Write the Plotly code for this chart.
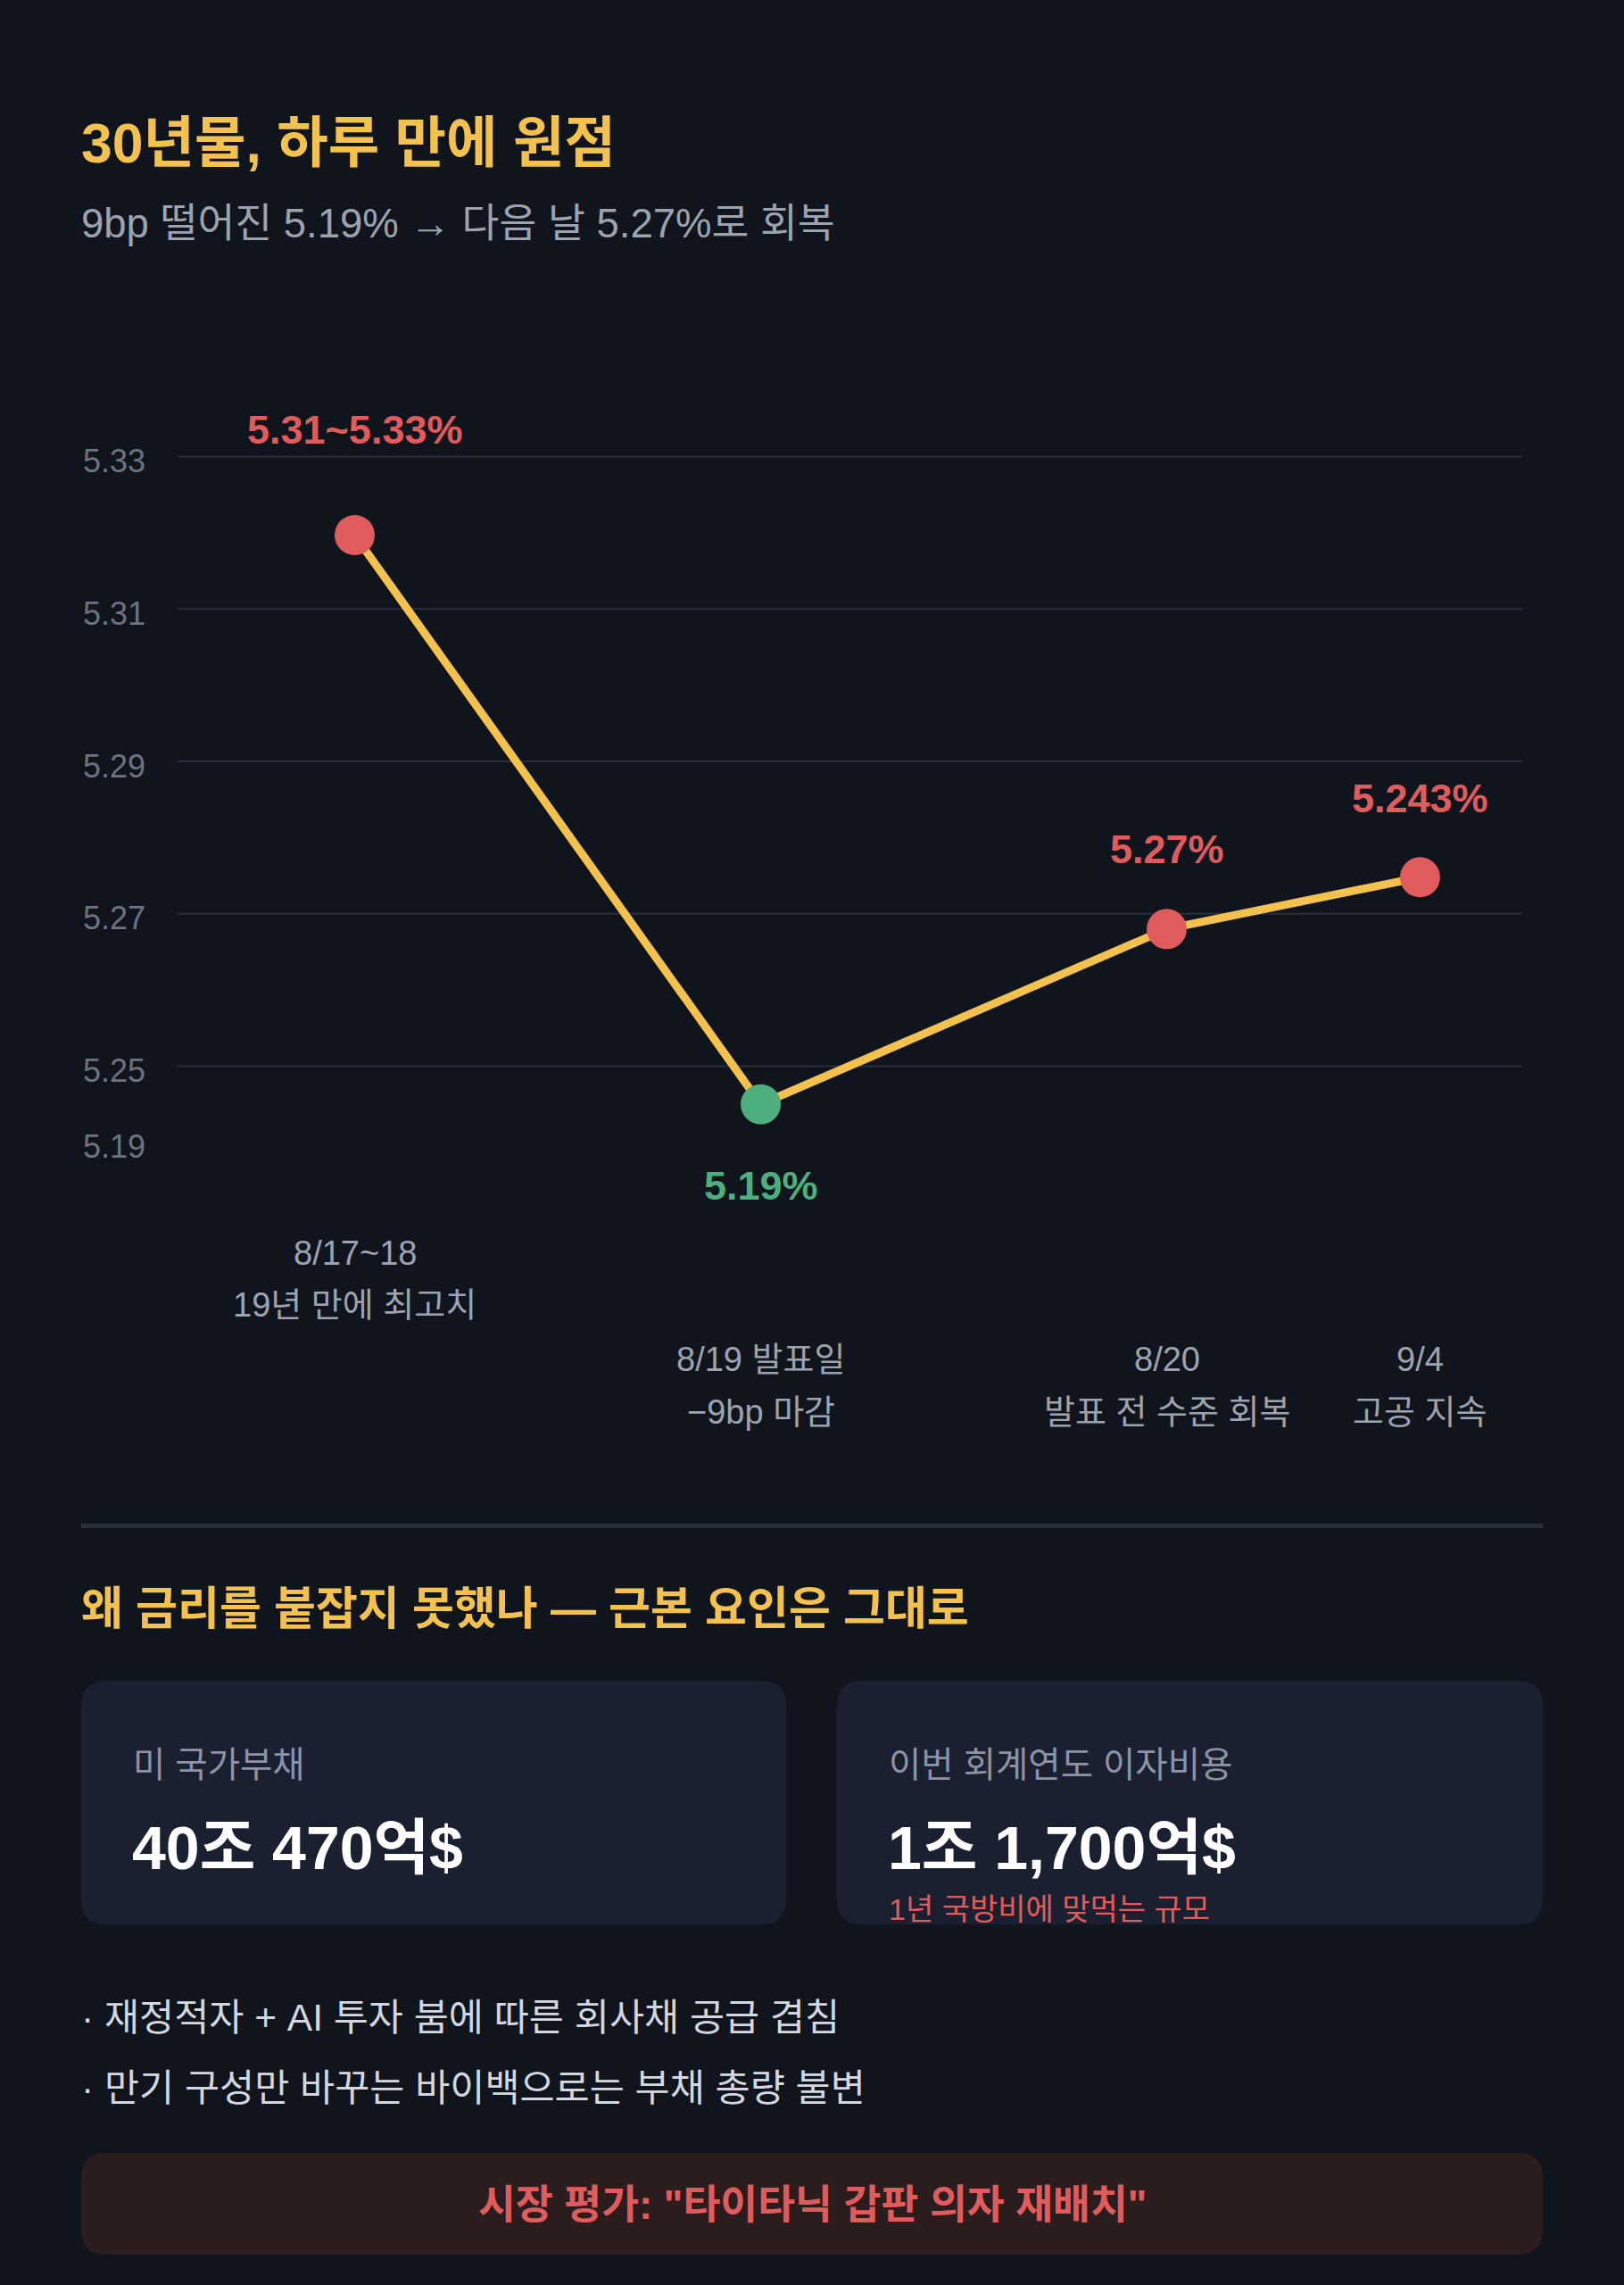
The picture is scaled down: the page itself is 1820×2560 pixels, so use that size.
import plotly.graph_objects as go

W, H = 1820, 2560

# ---------------- data ----------------
categories = ["8/17~18", "8/19 발표일", "8/20", "9/4"]
category_notes = ["19년 만에 최고치", "−9bp 마감", "발표 전 수준 회복", "고공 지속"]
x_index = [0, 1, 2, 2.624]
y_values = [5.3197, 5.2450, 5.2680, 5.2748]
value_labels = ["5.31~5.33%", "5.19%", "5.27%", "5.243%"]
point_kind = ["high", "low", "high", "high"]

grid_ticks = [5.33, 5.31, 5.29, 5.27, 5.25]
extra_tick_vals = [5.2394]
extra_tick_text = ["5.19"]

title_text = "30년물, 하루 만에 원점"
subtitle_text = "9bp 떨어진 5.19% → 다음 날 5.27%로 회복"
section_title = "왜 금리를 붙잡지 못했나 — 근본 요인은 그대로"
card_labels = ["미 국가부채", "이번 회계연도 이자비용"]
card_values = ["40조 470억$", "1조 1,700억$"]
card_notes = ["", "1년 국방비에 맞먹는 규모"]
bullets = ["· 재정적자 + AI 투자 붐에 따른 회사채 공급 겹침",
           "· 만기 구성만 바꾸는 바이백으로는 부채 총량 불변"]
verdict = '시장 평가: "타이타닉 갑판 의자 재배치"'

# ---------------- style ----------------
BG = "#10141c"
CARD = "#1b2030"
VERDICT_BG = "#2b1c1e"
YELLOW = "#f3c14e"
RED = "#e05c5c"
GREEN = "#4caf7d"
GRID = "#282e3d"
TICK = "#6b7280"
GRAY = "#9ca3af"
LIGHT = "#d3d7df"
FONT = "Liberation Sans, 'Noto Sans CJK KR', sans-serif"
kind_color = {"high": RED, "low": GREEN}


def px(x):
    return x / W


def py(y):
    return 1 - y / H


# plot-area geometry (pixels)
plot_left, plot_right = 199, 1706
plot_top, plot_bottom = 450, 1350
y_px_hi, y_px_lo = 511.6, 1194.5        # pixel rows of 5.33 and 5.25
ppu_y = (y_px_lo - y_px_hi) / (5.33 - 5.25)
y_range = [5.25 - (plot_bottom - y_px_lo) / ppu_y, 5.33 + (y_px_hi - plot_top) / ppu_y]
x0_px, ppu_x = 397.5, 455.0
x_range = [-(x0_px - plot_left) / ppu_x, (plot_right - x0_px) / ppu_x]

fig = go.Figure()

fig.add_trace(go.Scatter(
    x=x_index, y=y_values, mode="lines+markers",
    line=dict(color=YELLOW, width=9),
    marker=dict(size=45, color=[kind_color[k] for k in point_kind], line=dict(width=0)),
    cliponaxis=False, hoverinfo="skip", showlegend=False,
))

shapes = []
for v in grid_ticks:
    shapes.append(dict(type="line", xref="x domain", x0=0, x1=1, yref="y", y0=v, y1=v,
                       line=dict(color=GRID, width=2), layer="below"))


def rrect(x0, y0, x1, y1, r, fill):
    pts = lambda a, b: f"{px(a):.6f},{py(b):.6f}"
    path = (f"M {pts(x0 + r, y0)} L {pts(x1 - r, y0)} Q {pts(x1, y0)} {pts(x1, y0 + r)} "
            f"L {pts(x1, y1 - r)} Q {pts(x1, y1)} {pts(x1 - r, y1)} "
            f"L {pts(x0 + r, y1)} Q {pts(x0, y1)} {pts(x0, y1 - r)} "
            f"L {pts(x0, y0 + r)} Q {pts(x0, y0)} {pts(x0 + r, y0)} Z")
    return dict(type="path", xref="paper", yref="paper", path=path,
                fillcolor=fill, line=dict(width=0), layer="below")


# separator
shapes.append(dict(type="rect", xref="paper", yref="paper", x0=px(91), x1=px(1729),
                   y0=py(1712), y1=py(1707), fillcolor="#2a2f3e", line=dict(width=0), layer="below"))
# cards
card_x = [(91, 881), (938, 1729)]
for (a, b) in card_x:
    shapes.append(rrect(a, 1883, b, 2156, 28, CARD))
# verdict box
shapes.append(rrect(91, 2412, 1729, 2526, 28, VERDICT_BG))

ann = []


def text(x, y, s, size, color, bold=False, xanchor="left"):
    ann.append(dict(xref="paper", yref="paper", x=px(x), y=py(y), text=f"<b>{s}</b>" if bold else s,
                    showarrow=False, xanchor=xanchor, yanchor="middle",
                    font=dict(size=size, color=color, family=FONT)))


text(89, 160, title_text, 62.5, YELLOW, bold=True)
text(89, 251, subtitle_text, 45.5, GRAY)

# y tick labels (sit slightly below their gridlines)
tick_vals = grid_ticks + extra_tick_vals
tick_text = [f"{v:.2f}" for v in grid_ticks] + extra_tick_text
tick_shift = [-5] * len(grid_ticks) + [0]
for v, t, sh in zip(tick_vals, tick_text, tick_shift):
    ann.append(dict(xref="paper", yref="y", x=px(165), y=v, text=t, showarrow=False,
                    xanchor="right", yanchor="middle", yshift=sh,
                    font=dict(size=36, color=TICK, family=FONT)))

# value labels on points
label_shift = [118, -91, 89, 88]
for xi, yi, lab, k, sh in zip(x_index, y_values, value_labels, point_kind, label_shift):
    ann.append(dict(xref="x", yref="y", x=xi, y=yi, text=f"<b>{lab}</b>", showarrow=False,
                    xanchor="center", yanchor="middle", yshift=sh,
                    font=dict(size=45, color=kind_color[k], family=FONT)))

# category labels (first one staggered upward)
row_y = [(1404, 1462), (1523, 1582), (1523, 1582), (1523, 1582)]
for xi, c, n, (ya, yb) in zip(x_index, categories, category_notes, row_y):
    for s, yy in ((c, ya), (n, yb)):
        ann.append(dict(xref="x", yref="paper", x=xi, y=py(yy), text=s, showarrow=False,
                        xanchor="center", yanchor="middle",
                        font=dict(size=38, color=GRAY, family=FONT)))

text(89, 1802, section_title, 51, YELLOW, bold=True)

for (a, b), lab, val, note in zip(card_x, card_labels, card_values, card_notes):
    text(a + 56, 1977, lab, 39.5, "#8b93a5")
    text(a + 55, 2070, val, 68, "#ffffff", bold=True)
    if note:
        text(a + 56, 2139, note, 34, RED)

for i, b in enumerate(bullets):
    text(89, 2260 + 79 * i, b, 42.5, LIGHT)

text(910, 2470, verdict, 45.5, RED, bold=True, xanchor="center")

fig.update_layout(
    width=W, height=H, margin=dict(l=0, r=0, t=0, b=0),
    paper_bgcolor=BG, plot_bgcolor=BG, showlegend=False, hovermode=False,
    font=dict(family=FONT),
    shapes=shapes, annotations=ann,
    xaxis=dict(domain=[px(plot_left), px(plot_right)], range=x_range, visible=False, fixedrange=True),
    yaxis=dict(domain=[py(plot_bottom), py(plot_top)], range=y_range,
               showticklabels=False, showgrid=False, zeroline=False, showline=False, ticks="",
               fixedrange=True),
)

fig.write_html("out.html", config={"displayModeBar": False},
               post_script="document.body.style.margin='0';document.body.style.background='" + BG + "';")
